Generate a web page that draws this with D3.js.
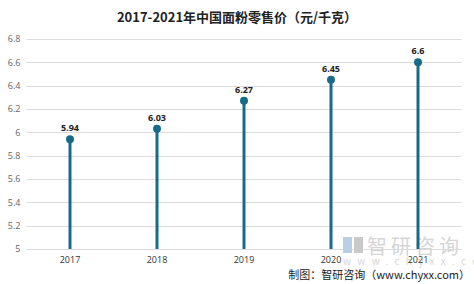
<!DOCTYPE html>
<html>
<head>
<meta charset="utf-8">
<script src="https://cdn.jsdelivr.net/npm/d3@7"></script>
<style>
  body { margin: 0; background: #fff; }
  svg { display: block; font-family: "Microsoft YaHei", "Noto Sans CJK SC", "Noto Sans", sans-serif; }
</style>
</head>
<body>
<svg id="chart" width="474" height="284"></svg>
<script>
const years  = ['2017', '2018', '2019', '2020', '2021']
const prices = [5.94, 6.03, 6.27, 6.45, 6.6]
const yTicks = [5, 5.2, 5.4, 5.6, 5.8, 6, 6.2, 6.4, 6.6, 6.8]

const svg = d3.select('#chart')
const plotLeft = 26.5, plotRight = 461.5, plotTop = 39, plotBottom = 249

const x = d3.scaleBand().domain(years).range([plotLeft, plotRight])
const y = d3.scaleLinear().domain([5, 6.8]).range([plotBottom, plotTop])

// title
svg.append('text')
    .attr('x', 237).attr('y', 22)
    .attr('text-anchor', 'middle')
    .style('font-size', '13px').style('font-weight', 'bold').style('fill', '#222')
    .text('2017-2021年中国面粉零售价（元/千克）')

// grid
svg.append('g').selectAll('line')
    .data(yTicks)
    .enter().append('line')
    .attr('x1', plotLeft).attr('x2', plotRight)
    .attr('y1', d => Math.round(y(d)) + 0.5).attr('y2', d => Math.round(y(d)) + 0.5)
    .style('stroke', '#dcdcdc').style('stroke-width', '1px')

// y axis labels
const yAxis = d3.axisLeft(y).tickValues(yTicks).tickSize(0).tickPadding(6)
    .tickFormat(d => d3.format('~g')(d))
svg.append('g').attr('transform', `translate(${plotLeft},0)`).call(yAxis)
    .call(g => g.select('.domain').remove())
    .call(g => g.selectAll('text').style('font-size', '9px').style('fill', '#666')
        .style('font-family', '"Open Sans", "Noto Sans", sans-serif'))

// watermark
const wm = svg.append('g').style('fill', '#d6d6d6')
wm.append('rect').attr('x', 343).attr('y', 237).attr('width', 9).attr('height', 16).style('fill', '#b9cfe6')
wm.append('rect').attr('x', 354).attr('y', 237).attr('width', 9).attr('height', 16).style('fill', '#c9c9c9')
wm.append('text').attr('x', 367).attr('y', 254)
    .style('font-size', '20px').style('letter-spacing', '4px').text('智研咨询')
wm.append('text').attr('x', 343).attr('y', 265)
    .style('font-size', '10px').style('letter-spacing', '6.3px').text('www.chyxx.com')

// x axis labels
const xAxis = d3.axisBottom(x).tickSize(0).tickPadding(8)
svg.append('g').attr('transform', `translate(0,${plotBottom})`).call(xAxis)
    .call(g => g.select('.domain').remove())
    .call(g => g.selectAll('text').style('font-size', '9px').style('fill', '#333')
        .style('font-family', '"Open Sans", "Noto Sans", sans-serif'))

const data = years.map((yr, i) => ({yr, v: prices[i]}))
const cx = d => x(d.yr) + x.bandwidth() / 2

// stems
svg.append('g').selectAll('line')
    .data(data)
    .enter().append('line')
    .attr('x1', cx).attr('x2', cx)
    .attr('y1', y(5)).attr('y2', d => y(d.v))
    .style('stroke', '#176b8a').style('stroke-width', '3px')

// dots
svg.append('g').selectAll('circle')
    .data(data)
    .enter().append('circle')
    .attr('cx', cx).attr('cy', d => y(d.v)).attr('r', 4)
    .style('fill', '#176b8a')

// value labels
svg.append('g').selectAll('text')
    .data(data)
    .enter().append('text')
    .attr('x', cx).attr('y', d => y(d.v) - 8)
    .attr('text-anchor', 'middle')
    .style('font-size', '9px').style('font-weight', 'bold').style('fill', '#222')
    .style('font-family', '"Open Sans", "Noto Sans", sans-serif')
    .text(d => d.v)

// source
svg.append('text')
    .attr('x', 470).attr('y', 279)
    .attr('text-anchor', 'end')
    .style('font-size', '11px').style('fill', '#222')
    .text('制图：智研咨询（www.chyxx.com）')
</script>
</body>
</html>
